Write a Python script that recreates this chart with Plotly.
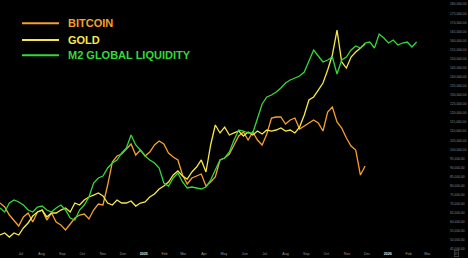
import pandas as pd
import plotly.graph_objects as go

# Weekly observations starting 2024-05-31
start_date = "2024-05-31"

btc = [70460, 68250, 63840, 61080, 57780, 62740, 64940, 59980, 65500, 66600,
       61080, 64940, 59980, 58330, 55570, 58880, 62190, 63840, 64390, 61640,
       66600, 69910, 69350, 80380, 93060, 96370, 97470, 100230, 102980, 96920,
       99670, 96370, 98570, 102430, 104640, 102980, 98020, 95810, 94160, 85890,
       80930, 84240, 85340, 86440, 79830, 82030, 84790, 94160, 95260, 97470,
       102430, 107390, 109600, 105190, 109600, 105190, 102430, 108500, 117320, 117870,
       117870, 114010, 116210, 117320, 111250, 112910, 114560, 116210, 114560, 110150,
       120620, 123380, 115110, 111800, 106290, 101880, 99670, 85890, 90850]

gold = [2330, 2350, 2310, 2350, 2330, 2399, 2448, 2516, 2556, 2575,
        2507, 2546, 2546, 2575, 2595, 2556, 2644, 2624, 2673, 2703,
        2722, 2742, 2713, 2644, 2624, 2673, 2644, 2644, 2664, 2614,
        2644, 2654, 2703, 2732, 2781, 2811, 2850, 2919, 2958, 2909,
        2879, 2948, 2997, 3066, 2948, 3213, 3409, 3331, 3389, 3311,
        3331, 3350, 3301, 3340, 3311, 3350, 3321, 3360, 3350, 3360,
        3380, 3350, 3360, 3331, 3389, 3507, 3654, 3684, 3752, 3821,
        3949, 4096, 4341, 4027, 3968, 4076, 4125, 4164, 4204]

m2 = [95.7, 95.3, 96.2, 96.5, 96.3, 96.0, 95.5, 95.3, 95.8, 95.9,
      95.5, 95.3, 95.7, 96.0, 95.5, 94.7, 94.5, 95.5, 96.0, 96.8,
      98.2, 98.7, 98.9, 99.7, 100.2, 100.5, 101.2, 101.7, 103.0, 102.0,
      101.5, 100.9, 100.5, 100.2, 99.7, 98.2, 97.9, 98.7, 99.2, 98.3,
      97.7, 97.8, 97.7, 97.6, 97.8, 98.5, 99.5, 100.5, 100.7, 101.3,
      102.5, 103.5, 103.4, 103.2, 103.2, 104.7, 106.1, 106.8, 107.0, 107.3,
      107.7, 108.2, 108.5, 108.7, 108.9, 109.3, 110.5, 111.5, 110.9, 110.3,
      110.5, 110.8, 109.1, 110.5, 110.8, 111.5, 111.9, 111.7, 112.2, 112.3,
      111.7, 113.1, 112.7, 112.2, 112.5, 112.0, 112.2, 112.3, 111.8, 112.3]

series_names = ["BITCOIN", "GOLD", "M2 GLOBAL LIQUIDITY"]

month_ticks = pd.date_range("2024-06-01", "2026-03-01", freq="MS")
month_text = [("<b><span style='color:#e6e6e6'>%d</span></b>" % d.year) if d.month == 1
              else d.strftime("%b") for d in month_ticks]

price_ticks = list(range(45000, 185000, 5000))

dates_btc = pd.date_range(start_date, periods=len(btc), freq="7D")
dates_gold = pd.date_range(start_date, periods=len(gold), freq="7D")
dates_m2 = pd.date_range(start_date, periods=len(m2), freq="7D")

ORANGE = "#f5a12c"
YELLOW = "#f6e84a"
GREEN = "#35d83a"
colors = [ORANGE, YELLOW, GREEN]

fig = go.Figure()
fig.add_trace(go.Scatter(x=dates_m2, y=m2, mode="lines", name=series_names[2],
                         line=dict(color=GREEN, width=1.3), yaxis="y3"))
fig.add_trace(go.Scatter(x=dates_gold, y=gold, mode="lines", name=series_names[1],
                         line=dict(color=YELLOW, width=1.3), yaxis="y2"))
fig.add_trace(go.Scatter(x=dates_btc, y=btc, mode="lines", name=series_names[0],
                         line=dict(color=ORANGE, width=1.3), yaxis="y"))

# Custom legend (plot area is 440 x 250 px)
PW, PH = 440.0, 250.0
legend_rows = [23.3, 40.0, 55.3]
for name, col, row in zip(series_names, colors, legend_rows):
    yy = 1 - row / PH
    fig.add_shape(type="line", xref="paper", yref="paper",
                  x0=22 / PW, x1=59 / PW, y0=yy, y1=yy,
                  line=dict(color=col, width=2))
    fig.add_annotation(xref="paper", yref="paper", x=65.5 / PW, y=yy,
                       xanchor="left", yanchor="middle", showarrow=False,
                       text="<b>%s</b>" % name,
                       font=dict(family="Liberation Sans, Arial", size=11, color=col))

# small scale-mode box in the bottom right corner
fig.add_annotation(xref="paper", yref="paper", x=456 / PW, y=-3.5 / PH,
                   xanchor="center", yanchor="middle", showarrow=False,
                   text="D", font=dict(size=3.5, color="#9a9a9a"),
                   bordercolor="#5a5a5a", borderwidth=0.6, borderpad=0.5)

fig.update_layout(
    width=468, height=258,
    margin=dict(l=0, r=28, t=0, b=8),
    paper_bgcolor="black", plot_bgcolor="black",
    showlegend=False,
    xaxis=dict(range=["2024-05-31", "2026-03-20"], showgrid=False, zeroline=False,
               tickvals=month_ticks, ticktext=month_text, ticks="",
               tickfont=dict(size=3.6, color="#9a9a9a", family="Liberation Sans, Arial"),
               showline=False),
    yaxis=dict(range=[44550, 182370], side="right", showgrid=False, zeroline=False,
               tickvals=price_ticks, tickformat=",.2f", ticks="",
               ticklabelstandoff=9,
               tickfont=dict(size=3.3, color="#8a8a8a", family="Liberation Sans, Arial")),
    yaxis2=dict(range=[2182.9, 4635.4], overlaying="y", visible=False),
    yaxis3=dict(range=[91.5, 116.5], overlaying="y", visible=False),
)

fig.write_html("out.html")
